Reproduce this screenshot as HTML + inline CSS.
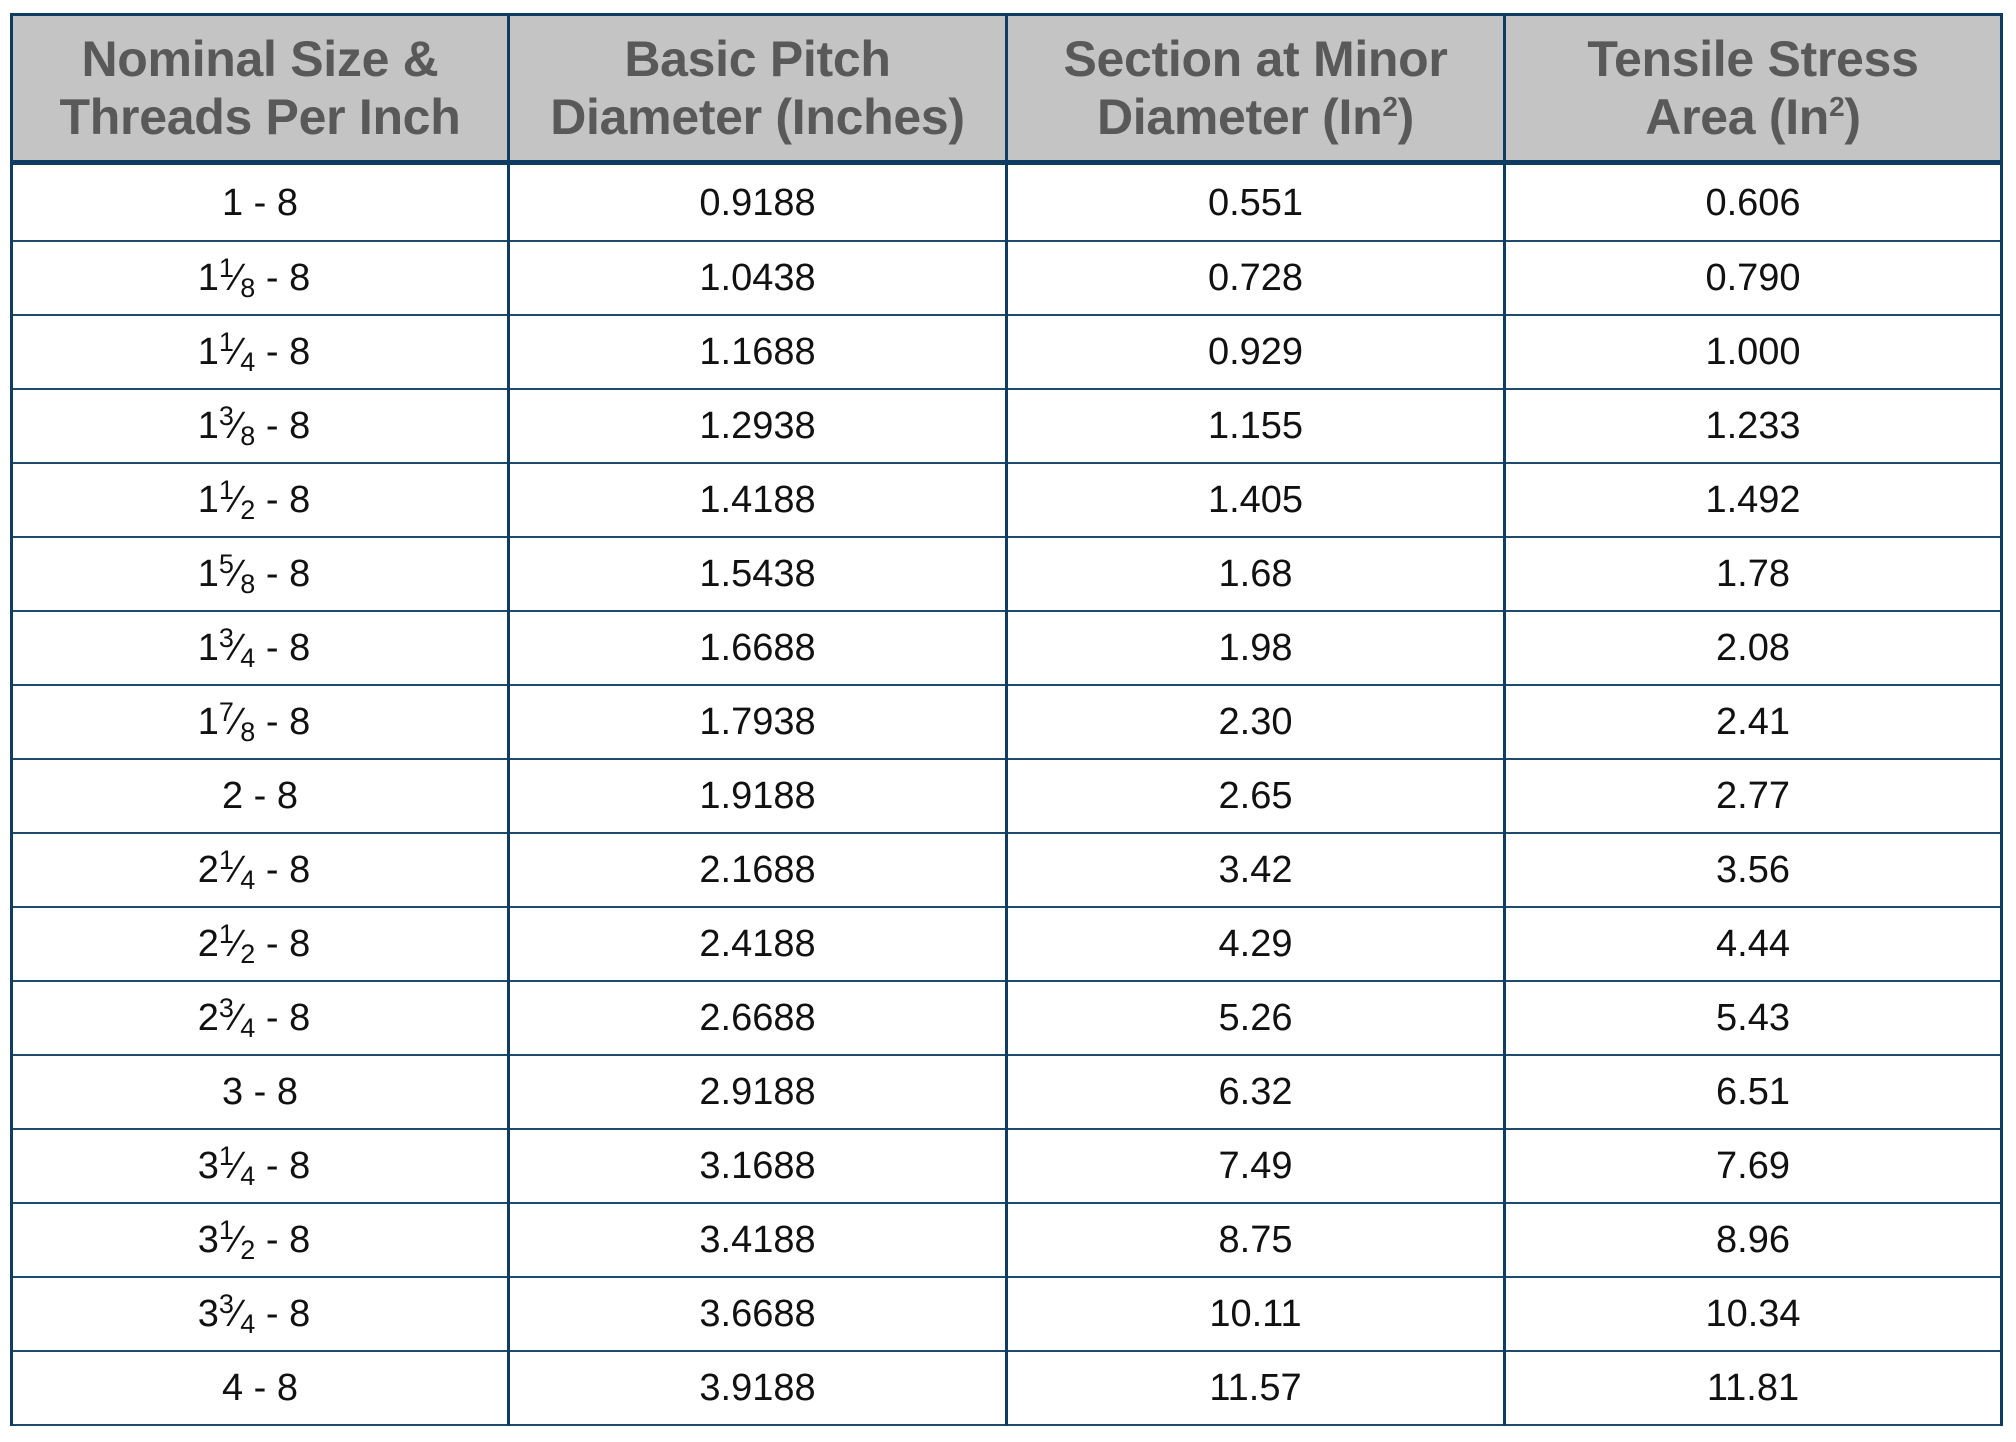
<!DOCTYPE html>
<html><head><style>
html,body{margin:0;padding:0;background:#fff;width:2016px;height:1442px;overflow:hidden}
table{position:absolute;left:10px;top:13px;width:1990px;border-collapse:collapse;table-layout:fixed;font-family:"Liberation Sans",Arial,sans-serif}
td,th{border:3px solid #0f3d62;text-align:center;padding:0}
th{background:#c4c4c4;color:#595959;font-weight:bold;font-size:50px;line-height:58px;height:144px;letter-spacing:-0.3px}
th{border-bottom:5px solid #0f3d62}
td{font-size:38px;color:#111;height:72px;padding-top:2px;box-sizing:border-box;border-top:2px solid #1d4a6e;border-bottom:2px solid #1d4a6e}
td{height:74px}
tr.r1 td{height:78px}
.f{padding-right:12px}
.f sup{font-size:27px;vertical-align:13px;line-height:0}
.f sub{font-size:27px;vertical-align:-7px;line-height:0}
th sup{font-size:28px;vertical-align:18px;line-height:0}
</style></head><body>
<table>
<colgroup><col style="width:497px"><col style="width:498px"><col style="width:498px"><col style="width:497px"></colgroup>
<tr><th>Nominal Size &amp;<br>Threads Per Inch</th><th>Basic Pitch<br>Diameter (Inches)</th><th>Section at Minor<br>Diameter (In<sup>2</sup>)</th><th>Tensile Stress<br>Area (In<sup>2</sup>)</th></tr>
<tr class="r1"><td>1 - 8</td><td>0.9188</td><td>0.551</td><td>0.606</td></tr>
<tr><td class="f">1<sup>1</sup>⁄<sub>8</sub> - 8</td><td>1.0438</td><td>0.728</td><td>0.790</td></tr>
<tr><td class="f">1<sup>1</sup>⁄<sub>4</sub> - 8</td><td>1.1688</td><td>0.929</td><td>1.000</td></tr>
<tr><td class="f">1<sup>3</sup>⁄<sub>8</sub> - 8</td><td>1.2938</td><td>1.155</td><td>1.233</td></tr>
<tr><td class="f">1<sup>1</sup>⁄<sub>2</sub> - 8</td><td>1.4188</td><td>1.405</td><td>1.492</td></tr>
<tr><td class="f">1<sup>5</sup>⁄<sub>8</sub> - 8</td><td>1.5438</td><td>1.68</td><td>1.78</td></tr>
<tr><td class="f">1<sup>3</sup>⁄<sub>4</sub> - 8</td><td>1.6688</td><td>1.98</td><td>2.08</td></tr>
<tr><td class="f">1<sup>7</sup>⁄<sub>8</sub> - 8</td><td>1.7938</td><td>2.30</td><td>2.41</td></tr>
<tr><td>2 - 8</td><td>1.9188</td><td>2.65</td><td>2.77</td></tr>
<tr><td class="f">2<sup>1</sup>⁄<sub>4</sub> - 8</td><td>2.1688</td><td>3.42</td><td>3.56</td></tr>
<tr><td class="f">2<sup>1</sup>⁄<sub>2</sub> - 8</td><td>2.4188</td><td>4.29</td><td>4.44</td></tr>
<tr><td class="f">2<sup>3</sup>⁄<sub>4</sub> - 8</td><td>2.6688</td><td>5.26</td><td>5.43</td></tr>
<tr><td>3 - 8</td><td>2.9188</td><td>6.32</td><td>6.51</td></tr>
<tr><td class="f">3<sup>1</sup>⁄<sub>4</sub> - 8</td><td>3.1688</td><td>7.49</td><td>7.69</td></tr>
<tr><td class="f">3<sup>1</sup>⁄<sub>2</sub> - 8</td><td>3.4188</td><td>8.75</td><td>8.96</td></tr>
<tr><td class="f">3<sup>3</sup>⁄<sub>4</sub> - 8</td><td>3.6688</td><td>10.11</td><td>10.34</td></tr>
<tr><td>4 - 8</td><td>3.9188</td><td>11.57</td><td>11.81</td></tr>
</table>
</body></html>
